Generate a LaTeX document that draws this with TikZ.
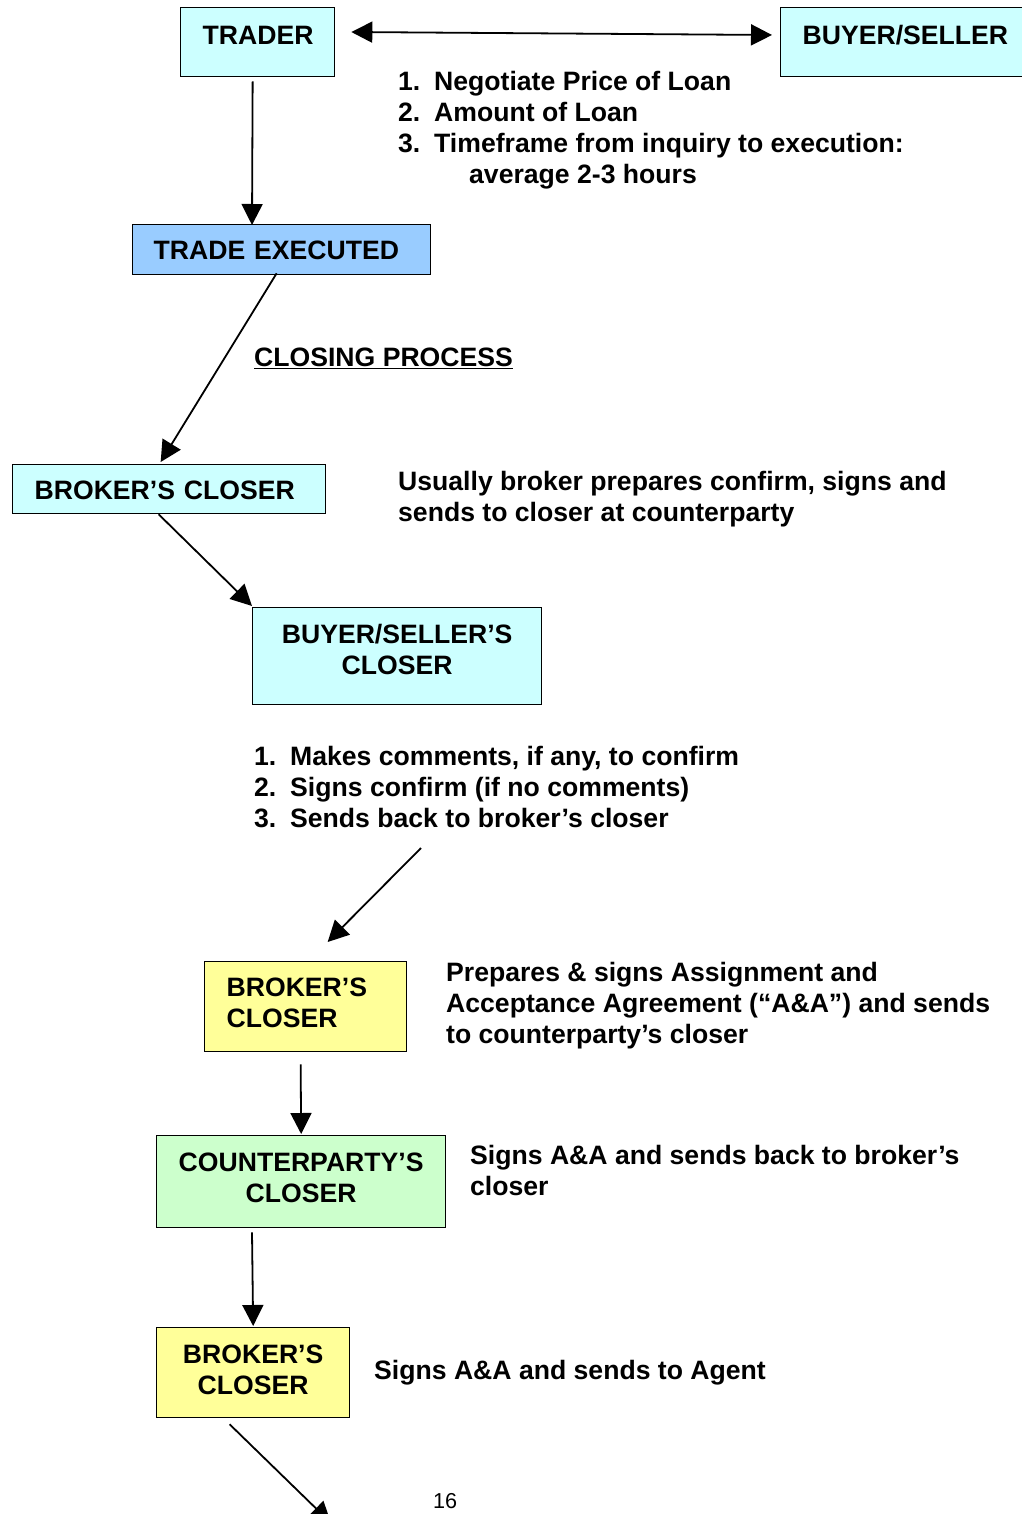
\documentclass[tikz,border=0pt]{standalone}
\usepackage{fontspec}
\setmainfont{Liberation Sans}
\usetikzlibrary{arrows.meta,calc}
\definecolor{paleCyan}{HTML}{CCFFFF}
\definecolor{execBlue}{HTML}{99CCFF}
\definecolor{paleYellow}{HTML}{FFFF99}
\definecolor{paleGreen}{HTML}{CCFFCC}
\newcommand{\itemno}[1]{\makebox[36pt][l]{#1}}
\begin{document}
\begin{tikzpicture}[x=1pt,y=1pt,
  every node/.style={font=\fontsize{26.6}{31}\selectfont\bfseries},
  box/.style={draw=black, line width=1.3pt, inner ysep=0pt, anchor=north west},
  flow/.style={-{Triangle[length=21pt,width=21pt]}, line width=1.8pt},
  both/.style={{Triangle[length=21pt,width=21pt]}-{Triangle[length=21pt,width=21pt]}, line width=1.8pt},
  note/.style={anchor=base west, align=left, inner sep=0pt}]

\useasboundingbox (0,0) rectangle (1021,-1514);

% boxes (text height/depth place the first baseline inside each box)
\node[box, fill=paleCyan, inner xsep=22pt, text width=110pt, align=left,
      text height=36.5pt, text depth=32.5pt] (trader) at (180,-7) {TRADER};
\node[box, fill=paleCyan, inner xsep=22pt, text width=206pt, align=left,
      text height=36.5pt, text depth=32.5pt] (buyer) at (780,-7) {BUYER/SELLER};
\node[box, fill=execBlue, inner xsep=21pt, text width=256pt, align=left,
      text height=34.5pt, text depth=15.5pt] (exec) at (132,-224) {TRADE EXECUTED};
\node[box, fill=paleCyan, inner xsep=22pt, text width=269pt, align=left,
      text height=34.5pt, text depth=14.5pt] (bc1) at (12,-464) {BROKER’S CLOSER};
\node[box, fill=paleCyan, inner xsep=10pt, text width=269pt, align=center,
      text height=35.5pt, text depth=61.5pt] (bsc) at (252,-607) {BUYER/SELLER’S\\CLOSER};
\node[box, fill=paleYellow, inner xsep=22pt, text width=158pt, align=left,
      text height=34.5pt, text depth=55.5pt] (bc2) at (204,-961) {BROKER’S\\CLOSER};
\node[box, fill=paleGreen, inner xsep=10pt, text width=269pt, align=center,
      text height=35.5pt, text depth=56.5pt] (cpc) at (156,-1135) {COUNTERPARTY’S\\CLOSER};
\node[box, fill=paleYellow, inner xsep=10pt, text width=173pt, align=center,
      text height=35.5pt, text depth=54.5pt] (bc3) at (156,-1327) {BROKER’S\\CLOSER};

% notes (anchored at the baseline of their last line)
\node[note] (negotiate) at (398,-183.5) {\itemno{1.}Negotiate Price of Loan\\
  \itemno{2.}Amount of Loan\\
  \itemno{3.}Timeframe from inquiry to execution:\\
  \hspace*{71pt}average 2-3 hours};
\node[note] (closing) at (254,-366.5) {\underline{CLOSING PROCESS}};
\node[note] (usually) at (398,-521.5) {Usually broker prepares confirm, signs and\\
  sends to closer at counterparty};
\node[note] (comments) at (254,-827.5) {\itemno{1.}Makes comments, if any, to confirm\\
  \itemno{2.}Signs confirm (if no comments)\\
  \itemno{3.}Sends back to broker’s closer};
\node[note] (prepares) at (446,-1043) {Prepares \& signs Assignment and\\
  Acceptance Agreement (“A\&A”) and sends\\
  to counterparty’s closer};
\node[note] (signsback) at (470,-1195.5) {Signs A\&A and sends back to broker’s\\
  closer};
\node[note] (agent) at (374,-1379.5) {Signs A\&A and sends to Agent};
\node[note, font=\fontsize{21.6}{26}\selectfont] (page) at (433,-1508) {16};

% free ends of connectors
\coordinate (fromNotes) at (421,-848);
\coordinate (toAgent) at (331,-1523);

% connectors
\draw[both] ($(trader.north east)+(16,-25)$) -- ($(buyer.north west)+(-8,-28)$);
\draw[flow] ($(trader.south)+(-5,-4)$) -- ($(exec.north west)+(120,-1)$);
\draw[flow] ($(exec.south)+(-5,2)$) -- ($(bc1.north)+(-8.5,2)$);
\draw[flow] ($(bc1.south)+(-10.5,0)$) -- ($(bsc.north west)+(0,1)$);
\draw[flow] (fromNotes) -- ($(bc2.north)+(22,19)$);
\draw[flow] ($(bc2.south)+(-5,-12)$) -- ($(cpc.north)+(0,1)$);
\draw[flow] ($(cpc.south west)+(96,-4)$) -- ($(bc3.north)+(0,1)$);
\draw[flow] ($(bc3.south)+(-23.5,-6)$) -- (toAgent);
\end{tikzpicture}
\end{document}
